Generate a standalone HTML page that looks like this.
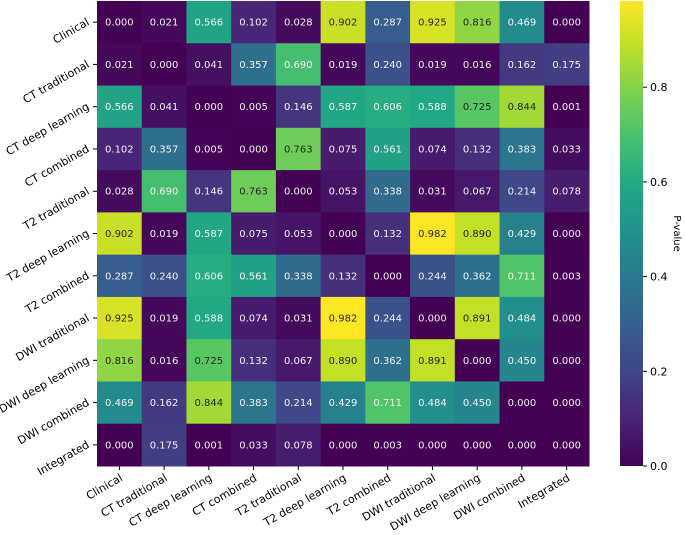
<!DOCTYPE html>
<html><head><meta charset="utf-8"><style>
body{margin:0;background:#fff}
svg{font-family:"DejaVu Sans","Liberation Sans",sans-serif}
</style></head><body>
<svg id="c" width="685" height="530">
<defs><linearGradient id="vg" x1="0" y1="1" x2="0" y2="0">
<stop offset="0" stop-color="#440154"/><stop offset="0.1" stop-color="#482475"/><stop offset="0.2" stop-color="#414487"/><stop offset="0.3" stop-color="#355f8d"/><stop offset="0.4" stop-color="#2a788e"/><stop offset="0.5" stop-color="#21918c"/><stop offset="0.6" stop-color="#22a884"/><stop offset="0.7" stop-color="#44bf70"/><stop offset="0.8" stop-color="#7ad151"/><stop offset="0.9" stop-color="#bddf26"/><stop offset="1" stop-color="#fde725"/></linearGradient></defs>
</svg>
<script>
const labels=["Clinical","CT traditional","CT deep learning","CT combined","T2 traditional","T2 deep learning","T2 combined","DWI traditional","DWI deep learning","DWI combined","Integrated"];
const values=[
[0.000,0.021,0.566,0.102,0.028,0.902,0.287,0.925,0.816,0.469,0.000],
[0.021,0.000,0.041,0.357,0.690,0.019,0.240,0.019,0.016,0.162,0.175],
[0.566,0.041,0.000,0.005,0.146,0.587,0.606,0.588,0.725,0.844,0.001],
[0.102,0.357,0.005,0.000,0.763,0.075,0.561,0.074,0.132,0.383,0.033],
[0.028,0.690,0.146,0.763,0.000,0.053,0.338,0.031,0.067,0.214,0.078],
[0.902,0.019,0.587,0.075,0.053,0.000,0.132,0.982,0.890,0.429,0.000],
[0.287,0.240,0.606,0.561,0.338,0.132,0.000,0.244,0.362,0.711,0.003],
[0.925,0.019,0.588,0.074,0.031,0.982,0.244,0.000,0.891,0.484,0.000],
[0.816,0.016,0.725,0.132,0.067,0.890,0.362,0.891,0.000,0.450,0.000],
[0.469,0.162,0.844,0.383,0.214,0.429,0.711,0.484,0.450,0.000,0.000],
[0.000,0.175,0.001,0.033,0.078,0.000,0.003,0.000,0.000,0.000,0.000]];
const cbTicks=[0.0,0.2,0.4,0.6,0.8];
const vmax=0.982;
const X0=97,X1=589,Y0=1,Y1=466,n=labels.length;
const cw=(X1-X0)/n,ch=(Y1-Y0)/n;
const CB={x:620,w:23};
const xS=i=>X0+i*cw, yS=i=>Y0+i*ch, cbY=v=>Y1-(v/vmax)*(Y1-Y0);
const stops=[[68,1,84],[72,36,117],[65,68,135],[53,95,141],[42,120,142],[33,145,140],[34,168,132],[68,191,112],[122,209,81],[189,223,38],[253,231,37]];
function col(v){let t=Math.max(0,Math.min(1,v/vmax))*10,i=Math.min(9,Math.floor(t)),f=t-i,a=stops[i],b=stops[i+1];
return `rgb(${a.map((c,k)=>Math.round(c+(b[k]-c)*f)).join(',')})`;}
const svg=document.getElementById('c'),NS="http://www.w3.org/2000/svg";
function mk(t,at,p){const e=document.createElementNS(NS,t);for(const k in at)e.setAttribute(k,at[k]);(p||svg).appendChild(e);return e;}
values.forEach((row,r)=>row.forEach((v,c)=>{
const g=mk('g',{});


mk('rect',{x:xS(c),y:yS(r),width:cw+0.5,height:ch+0.5,fill:col(v)},g);
const t=mk('text',{x:xS(c)+cw/2,y:yS(r)+ch/2+3.5,'text-anchor':'middle','font-size':'10',fill:v>0.715?'#262626':'#f2f2f2'},g);
t.textContent=v.toFixed(3);
}));
labels.forEach((l,i)=>{
const cx=xS(i)+cw/2,cy=yS(i)+ch/2;
mk('line',{x1:cx,y1:Y1,x2:cx,y2:Y1+4,stroke:'#000'});
const t=mk('text',{transform:`translate(${cx+4},${Y1+14}) rotate(-30)`,'text-anchor':'end','font-size':'11',fill:'#000'});


t.textContent=l;
mk('line',{x1:X0-4,y1:cy,x2:X0,y2:cy,stroke:'#000'});
const u=mk('text',{transform:`translate(${X0-7},${cy+2}) rotate(-30)`,'text-anchor':'end','font-size':'11',fill:'#000'});


u.textContent=l;
});
const cb=mk('rect',{x:CB.x,y:Y0,width:CB.w,height:Y1-Y0,fill:'url(#vg)'});


cbTicks.forEach(v=>{const y=cbY(v);
mk('line',{x1:CB.x+CB.w,y1:y,x2:CB.x+CB.w+4,y2:y,stroke:'#000'});
const t=mk('text',{x:CB.x+CB.w+7,y:y+4,'font-size':'11',fill:'#000'});


t.textContent=v.toFixed(1);});
const tt=mk('text',{transform:`translate(674,${(Y0+Y1)/2}) rotate(90)`,'text-anchor':'middle','font-size':'10',fill:'#000'});


tt.textContent='P-value';
</script>
</body></html>
